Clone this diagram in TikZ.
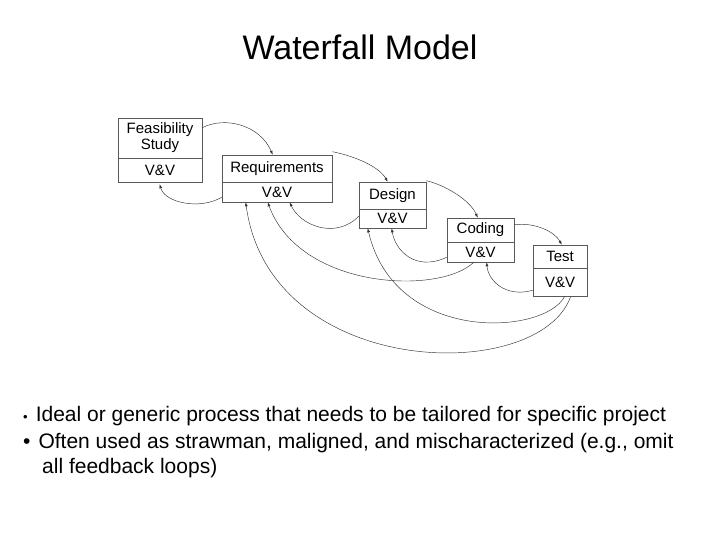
\documentclass[tikz,border=0pt]{standalone}
\usepackage{fontspec}
\setmainfont{Liberation Sans}
\usetikzlibrary{calc,arrows.meta}
\begin{document}
\begin{tikzpicture}[x=1pt,y=-1pt,
  box/.style={draw=black!65,line width=0.6pt,rectangle,inner sep=0pt,font=\fontsize{15}{16}\selectfont,align=center},
  arr/.style={draw=black!80,line width=0.45pt,-{Latex[length=4pt,width=3pt]}}]
\useasboundingbox (0,0) rectangle (720,540);
\node (title) at (360,47) {\fontsize{34}{38}\selectfont Waterfall Model};
\node[box,minimum width=84pt,minimum height=40pt] (fe) at (160,138) {Feasibility\\Study};
\node[box,minimum width=84pt,minimum height=24pt] (fev) at (160,170) {V\&V};
\node[box,minimum width=110pt,minimum height=27pt] (rq) at (277,168.5) {Requirements};
\node[box,minimum width=110pt,minimum height=20pt] (rqv) at (277,192) {V\&V};
\node[box,minimum width=67pt,minimum height=27pt] (de) at (392.5,195.5) {Design};
\node[box,minimum width=67pt,minimum height=19pt] (dev) at (392.5,218.5) {V\&V};
\node[box,minimum width=67pt,minimum height=24pt] (co) at (480.5,230) {Coding};
\node[box,minimum width=67pt,minimum height=20pt] (cov) at (480.5,252) {V\&V};
\node[box,minimum width=54pt,minimum height=23pt] (te) at (560,256.5) {Test};
\node[box,minimum width=54pt,minimum height=28pt] (tev) at (560,282) {V\&V};
% forward
\draw[arr] ($(fe.north east)+(0,10)$) .. controls (225,116) and (260,125) .. ($(rq.north west)+(51,0)$);
\draw[arr] ($(rq.north east)+(0,-3)$) .. controls (350,155) and (378,165) .. ($(de.north west)+(29,0)$);
\draw[arr] ($(de.north east)+(0,-1)$) .. controls (445,185) and (470,200) .. ($(co.north west)+(31,0)$);
\draw[arr] ($(co.north east)+(0,7)$) .. controls (535,222) and (555,232) .. ($(te.north west)+(29,0)$);
% backward
\draw[arr] ($(rqv.south west)+(0,-5)$) .. controls (200,210) and (165,203) .. ($(fev.south west)+(42,2)$);
\draw[arr] ($(dev.south west)+(0,-12)$) .. controls (335,240) and (300,225) .. ($(rqv.south west)+(68,0)$);
\draw[arr] ($(cov.south west)+(0,-5)$) .. controls (415,272) and (395,250) .. ($(dev.south west)+(33,0)$);
\draw[arr] ($(tev.south west)+(0,-6)$) .. controls (505,298) and (488,280) .. ($(cov.south west)+(40,0)$);
\draw[arr] ($(cov.south west)+(27,0)$) .. controls (440,295) and (300,290) .. ($(rqv.south west)+(46,0)$);
\draw[arr] ($(tev.south west)+(32,0)$) .. controls (545,335) and (395,345) .. ($(dev.south west)+(9,0)$);
\draw[arr] ($(tev.south west)+(38,0)$) .. controls (540,385) and (270,380) .. ($(rqv.south west)+(24,0)$);
% bullets
\node[anchor=west,inner sep=0pt] (b1) at (23,416) {\fontsize{13}{14}\selectfont\textbullet\hspace{8pt}\fontsize{21}{24}\selectfont Ideal or generic process that needs to be tailored for specific project};
\node[anchor=west,inner sep=0pt] (b2) at (23,443) {\fontsize{21}{24}\selectfont\textbullet\hspace{8pt}Often used as strawman, maligned, and mischaracterized (e.g., omit};
\node[anchor=west,inner sep=0pt] (b3) at (42,468) {\fontsize{21}{24}\selectfont all feedback loops)};
\end{tikzpicture}
\end{document}
